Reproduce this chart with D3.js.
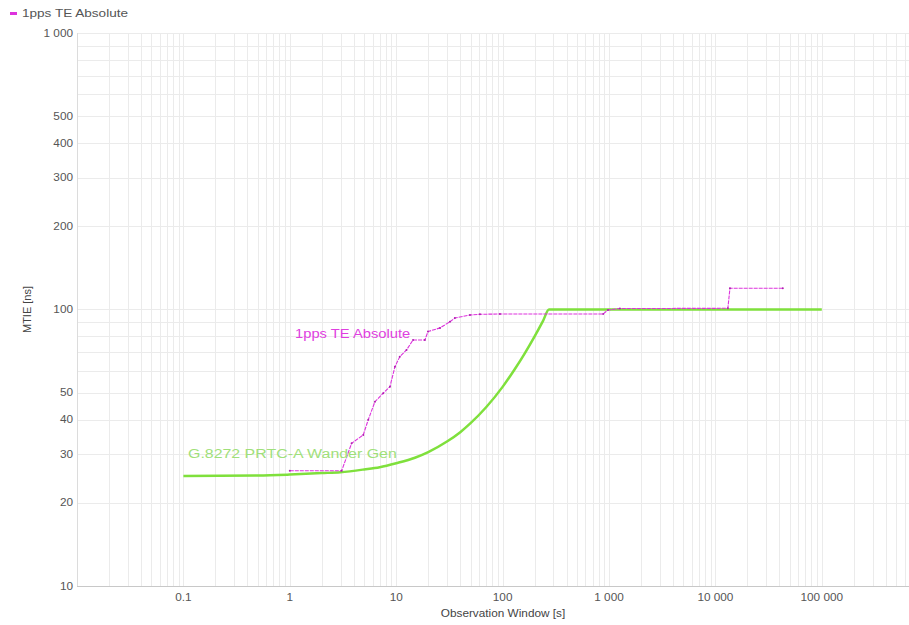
<!DOCTYPE html>
<html>
<head>
<meta charset="utf-8">
<script src="https://cdn.jsdelivr.net/npm/d3@7"></script>
<style>
  body { margin: 0; background: #fff; }
  #mydiv { width: 909px; height: 625px; }
  text { font-family: "Liberation Sans", Arial, sans-serif; }
</style>
</head>
<body>
<div id="mydiv"></div>
<script>
// axis ticks
var xTickValues = [0.1, 1, 10, 100, 1000, 10000, 100000];
var xTickLabels = ["0.1", "1", "10", "100", "1 000", "10 000", "100 000"];
var yTickValues = [10, 20, 30, 40, 50, 100, 200, 300, 400, 500, 1000];
var yTickLabels = ["10", "20", "30", "40", "50", "100", "200", "300", "400", "500", "1 000"];

// G.8272 PRTC-A wander generation mask
var maskTau  = [0.1, 0.5, 1, 2, 3, 5, 7, 10, 15, 20, 30, 40, 50, 70, 100, 130, 160, 200, 240, 273, 100000];
var maskMtie = [25.0, 25.1, 25.3, 25.6, 25.8, 26.4, 26.9, 27.8, 29.1, 30.5, 33.3, 36.0, 38.8, 44.3, 52.5, 60.8, 69.0, 80.0, 91.0, 100, 100];

// 1pps TE Absolute measured MTIE
var teTau  = [1.0, 3.07, 3.81, 4.9, 5.46, 6.31, 7.55, 8.73, 9.73, 10.8, 12.5, 14.4, 18.6, 19.9, 25.8, 32.0, 35.6, 49.3, 61.2, 94.4, 881, 977, 1266, 13100, 13700, 43000];
var teMtie = [26.1, 26.1, 32.8, 35.2, 39.9, 46.4, 49.8, 52.6, 62.1, 67.5, 71.4, 77.6, 77.6, 83.2, 85.8, 90.3, 93.1, 95.5, 96.1, 96.3, 96.3, 99.6, 100.8, 101.0, 119.4, 119.4];

var teName = "1pps TE Absolute";
var maskName = "G.8272 PRTC-A Wander Gen";
var teColor = "#dd33dd";
var maskColor = "#7fe03c";

var margin = {top: 33, right: 0, bottom: 39, left: 77},
    width = 909 - margin.left - margin.right,
    height = 625 - margin.top - margin.bottom;

var svg = d3.select("#mydiv").append("svg")
  .attr("width", 909)
  .attr("height", 625);

var g = svg.append("g")
  .attr("transform", "translate(" + margin.left + "," + margin.top + ")");

var x = d3.scaleLog().domain([0.01, 660000]).range([0, width]);
var y = d3.scaleLog().domain([10, 1000]).range([height, 0]);

// stretched text, like the original rendering
var sx = 1.18;
function label(sel, px, py, txt, anchor) {
  return sel.append("text")
    .attr("transform", "translate(" + px + "," + py + ") scale(" + sx + ",1)")
    .attr("text-anchor", anchor || "start")
    .text(txt);
}

// grid lines, 1..9 in every decade
var xGrid = [], yGrid = [];
for (var e = -2; e <= 5; e++) {
  for (var m = 1; m <= 9; m++) {
    var v = m * Math.pow(10, e);
    if (v > 0.01 && v <= 660000) xGrid.push(v);
  }
}
for (var e2 = 1; e2 <= 2; e2++) {
  for (var m2 = 1; m2 <= 9; m2++) {
    var v2 = m2 * Math.pow(10, e2);
    if (v2 > 10) yGrid.push(v2);
  }
}
yGrid.push(1000);

g.selectAll(".xgrid").data(xGrid).enter().append("line")
  .attr("class", "xgrid")
  .attr("x1", function(d) { return Math.round(x(d)) + 0.5; })
  .attr("x2", function(d) { return Math.round(x(d)) + 0.5; })
  .attr("y1", 0).attr("y2", height)
  .attr("stroke", "#ebebeb").attr("stroke-width", 1);

g.selectAll(".ygrid").data(yGrid).enter().append("line")
  .attr("class", "ygrid")
  .attr("x1", 0).attr("x2", width)
  .attr("y1", function(d) { return Math.round(y(d)) + 0.5; })
  .attr("y2", function(d) { return Math.round(y(d)) + 0.5; })
  .attr("stroke", "#ebebeb").attr("stroke-width", 1);

// axis lines
g.append("line").attr("x1", 0.5).attr("x2", 0.5).attr("y1", 0).attr("y2", height)
  .attr("stroke", "#dcdcdc");
g.append("line").attr("x1", 0).attr("x2", width).attr("y1", height + 0.5).attr("y2", height + 0.5)
  .attr("stroke", "#c8c8c8");

// tick labels
var xt = g.append("g").attr("font-size", 10).attr("fill", "#555");
xTickValues.forEach(function(d, i) {
  label(xt, x(d), height + 15, xTickLabels[i], "middle");
});
var yt = g.append("g").attr("font-size", 10).attr("fill", "#555");
yTickValues.forEach(function(d, i) {
  label(yt, -4, y(d) + 3.5, yTickLabels[i], "end");
});

// axis titles
label(svg.append("g").attr("font-size", 10).attr("fill", "#444"),
  503, 617, "Observation Window [s]", "middle");
svg.append("text")
  .attr("transform", "translate(31," + (margin.top + height / 2) + ") rotate(-90)")
  .attr("text-anchor", "middle")
  .attr("font-size", 11)
  .attr("fill", "#444")
  .text("MTIE [ns]");

var maskData = maskTau.map(function(t, i) { return {t: t, v: maskMtie[i]}; });
var teData = teTau.map(function(t, i) { return {t: t, v: teMtie[i]}; });

// mask curve
var line = d3.line()
  .x(function(d) { return x(d.t); })
  .y(function(d) { return y(d.v); })
  .curve(d3.curveMonotoneX);

g.append("path").datum(maskData)
  .attr("d", line)
  .attr("fill", "none")
  .attr("stroke", maskColor)
  .attr("stroke-width", 2.5);

// measured curve
var teLine = d3.line()
  .x(function(d) { return x(d.t); })
  .y(function(d) { return y(d.v); });

g.append("path").datum(teData)
  .attr("d", teLine)
  .attr("fill", "none")
  .attr("stroke", teColor)
  .attr("stroke-width", 1.1)
  .attr("stroke-dasharray", "4,1");

g.selectAll(".tept").data(teData).enter().append("circle")
  .attr("class", "tept")
  .attr("cx", function(d) { return x(d.t); })
  .attr("cy", function(d) { return y(d.v); })
  .attr("r", 1)
  .attr("fill", "#b020b0");

// series labels
label(svg.append("g").attr("font-size", 12.5).attr("fill", "#e040e0"),
  295, 338, teName);
label(svg.append("g").attr("font-size", 13.5).attr("fill", "#9fe07a"),
  188, 458, maskName);

// legend
svg.append("rect").attr("x", 10).attr("y", 12).attr("width", 7).attr("height", 3)
  .attr("fill", teColor);
label(svg.append("g").attr("font-size", 11.5).attr("fill", "#555"),
  22, 17, teName);
</script>
</body>
</html>
